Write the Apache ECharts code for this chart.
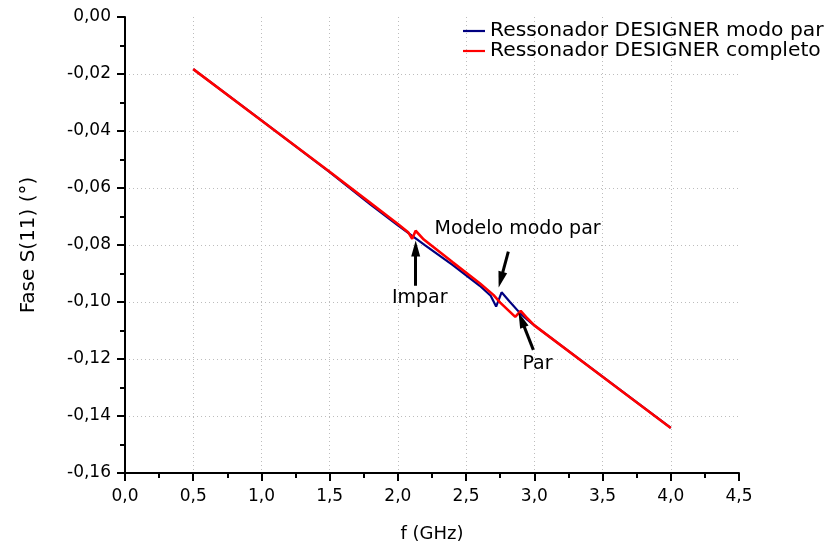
<!DOCTYPE html>
<html><head><meta charset="utf-8">
<script src="https://cdn.jsdelivr.net/npm/echarts@6/dist/echarts.min.js"></script>
<style>html,body{margin:0;padding:0;background:#fff}#c{width:825px;height:550px}</style>
</head><body><div id="c"></div>
<script>
// ---- data ----
const seriesNames = ['Ressonador DESIGNER modo par', 'Ressonador DESIGNER completo'];
const freqBlue  = [0.5, 1.0, 1.5, 1.8, 2.0, 2.2, 2.4, 2.6, 2.68, 2.72, 2.76, 2.82, 2.895, 2.95, 3.0, 3.5, 4.0];
const phaseBlue = [-0.0183, -0.0363, -0.0544, -0.0658, -0.0731, -0.0801, -0.0870, -0.0943, -0.0978, -0.1016, -0.0966, -0.0999, -0.1039, -0.1063, -0.1082, -0.1262, -0.1442];
const freqRed   = [0.5, 1.0, 1.5, 1.8, 2.0, 2.075, 2.105, 2.13, 2.19, 2.4, 2.6, 2.7, 2.75, 2.86, 2.9, 2.95, 3.0, 3.5, 4.0];
const phaseRed  = [-0.0183, -0.0363, -0.0543, -0.0653, -0.0726, -0.0755, -0.0778, -0.0750, -0.0781, -0.0860, -0.0934, -0.0975, -0.1002, -0.1052, -0.1031, -0.1058, -0.1082, -0.1262, -0.1442];
const xTickLabels = ['0,0', '0,5', '1,0', '1,5', '2,0', '2,5', '3,0', '3,5', '4,0', '4,5'];
const yTickLabels = ['-0,16', '-0,14', '-0,12', '-0,10', '-0,08', '-0,06', '-0,04', '-0,02', '0,00'];
const annotationTexts = ['Impar', 'Modelo modo par', 'Par'];

const zip = (xs, ys) => xs.map((x, i) => [x, ys[i]]);
const FONT = 'DejaVu Sans';

const chart = echarts.init(document.getElementById('c'), null, {renderer: 'canvas'});

const arrowStyle = {color: '#000', width: 3, type: 'solid'};
function arrow(x1, y1, x2, y2) {
  return [{coord: [x1, y1], symbol: 'none'}, {coord: [x2, y2], symbol: 'triangle', symbolSize: [9, 16]}];
}
function textMark(text, x, y) {
  return {coord: [x, y], value: text, symbol: 'circle', symbolSize: 0,
    label: {show: true, position: 'inside', formatter: text, color: '#000', fontFamily: FONT, fontSize: 19}};
}

chart.setOption({
  animation: false,
  backgroundColor: '#fff',
  grid: {left: 125, right: 86, top: 17, bottom: 77},
  legend: {
    data: seriesNames.map(n => ({name: n, icon: 'rect'})),
    orient: 'vertical', left: 458, top: 16,
    itemGap: 0, itemWidth: 22, itemHeight: 2.2, itemTextGap: 5,
    textStyle: {fontFamily: FONT, fontSize: 20.3, lineHeight: 19, color: '#000'},
    selectedMode: false
  },
  xAxis: {
    type: 'value', min: 0, max: 4.5, interval: 0.5,
    name: 'f (GHz)', nameLocation: 'middle', nameGap: 52,
    nameTextStyle: {fontFamily: FONT, fontSize: 18, color: '#000'},
    axisLine: {show: true, onZero: false, lineStyle: {color: '#000', width: 2}},
    axisTick: {show: true, length: 8, lineStyle: {color: '#000', width: 2}},
    minorTick: {show: true, splitNumber: 2, length: 5, lineStyle: {color: '#000', width: 2}},
    axisLabel: {margin: 15, color: '#000', fontFamily: FONT, fontSize: 17,
      formatter: v => xTickLabels[Math.round(v / 0.5)]},
    splitLine: {show: true, showMinLine: false, showMaxLine: false,
      lineStyle: {color: '#bdbdbd', width: 1, type: [1, 3]}}
  },
  yAxis: {
    type: 'value', min: -0.16, max: 0, interval: 0.02,
    name: 'Fase S(11) (°)', nameLocation: 'middle', nameGap: 86,
    nameTextStyle: {fontFamily: FONT, fontSize: 20, color: '#000'},
    axisLine: {show: true, onZero: false, lineStyle: {color: '#000', width: 2}},
    axisTick: {show: true, length: 8, lineStyle: {color: '#000', width: 2}},
    minorTick: {show: true, splitNumber: 2, length: 5, lineStyle: {color: '#000', width: 2}},
    axisLabel: {margin: 14, color: '#000', fontFamily: FONT, fontSize: 17,
      formatter: v => yTickLabels[Math.round((v + 0.16) / 0.02)]},
    splitLine: {show: true, showMinLine: false, showMaxLine: false,
      lineStyle: {color: '#bdbdbd', width: 1, type: [1, 3]}}
  },
  series: [
    {
      name: seriesNames[0], type: 'line', data: zip(freqBlue, phaseBlue),
      symbol: 'none', showSymbol: false, color: '#000080',
      lineStyle: {color: '#000080', width: 2.2}, z: 2
    },
    {
      name: seriesNames[1], type: 'line', data: zip(freqRed, phaseRed),
      symbol: 'none', showSymbol: false, color: '#ff0000',
      lineStyle: {color: '#ff0000', width: 2.6}, z: 3,
      markLine: {
        silent: true, animation: false, symbol: ['none', 'triangle'],
        label: {show: false}, lineStyle: arrowStyle, emphasis: {disabled: true},
        data: [
          arrow(2.1305, -0.0943, 2.1305, -0.0812),
          arrow(2.8094, -0.0823, 2.7537, -0.0922),
          arrow(2.9927, -0.1168, 2.9054, -0.1062)
        ]
      },
      markPoint: {
        silent: true, animation: false,
        data: [
          textMark(annotationTexts[0], 2.160, -0.0987),
          textMark(annotationTexts[1], 2.877, -0.0745),
          textMark(annotationTexts[2], 3.023, -0.1219)
        ]
      }
    }
  ]
});
</script></body></html>
